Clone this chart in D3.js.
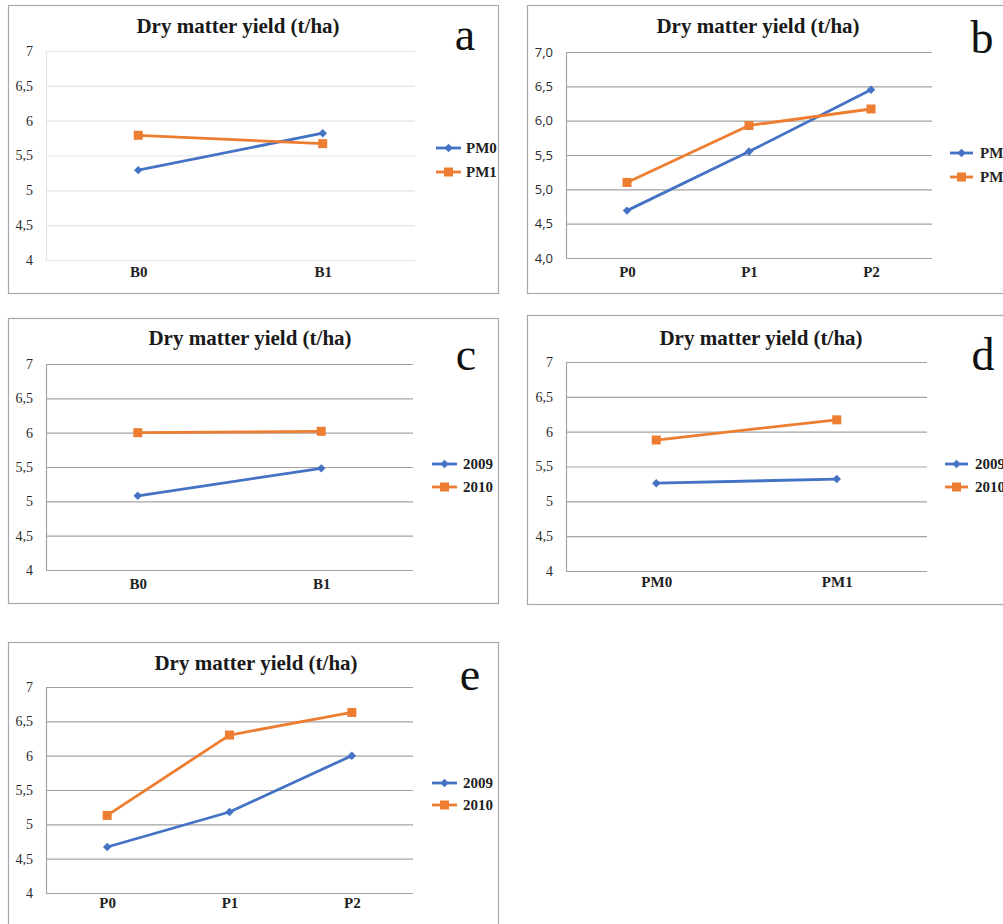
<!DOCTYPE html>
<html>
<head>
<meta charset="utf-8">
<script src="https://cdn.jsdelivr.net/npm/d3@7/dist/d3.min.js"></script>
<style>
  body { margin: 0; background: #fff; }
  svg { display: block; }
</style>
</head>
<body>
<svg id="fig" width="1003" height="924"></svg>
<script>
// categories
const catsB = ['B0', 'B1'];
const catsP = ['P0', 'P1', 'P2'];
const catsPM = ['PM0', 'PM1'];

// series values (t/ha)
const aPM0 = [5.29, 5.82];
const aPM1 = [5.79, 5.67];
const bPM0 = [4.69, 5.55, 6.45];
const bPM1 = [5.10, 5.93, 6.17];
const c2009 = [5.08, 5.48];
const c2010 = [6.00, 6.02];
const d2009 = [5.26, 5.32];
const d2010 = [5.88, 6.17];
const e2009 = [4.67, 5.18, 6.00];
const e2010 = [5.13, 6.30, 6.63];

const yTicks = [4, 4.5, 5, 5.5, 6, 6.5, 7];
const titleText = 'Dry matter yield (t/ha)';

const BLUE = '#4472c4';
const ORANGE = '#ed7d31';
const SERIF = '"Liberation Serif", "Times New Roman", serif';
const SANS = '"Open Sans", "Noto Sans", sans-serif';

const panels = [
  { letter: 'a', cats: catsB, names: ['PM0', 'PM1'], values: [aPM0, aPM1],
    frame: [8, 5, 490, 288], plot: [46, 51, 415, 260], title: [238, 33], tag: [465, 50],
    leg: [436, 461, 466, 148, 172], xLabY: 277, light: true, sans: false },
  { letter: 'b', cats: catsP, names: ['PM0', 'PM1'], values: [bPM0, bPM1],
    frame: [527, 5, 520, 288], plot: [566, 52, 932, 258], title: [758, 33], tag: [982, 53],
    leg: [950, 973, 980, 153, 177], xLabY: 277, light: false, sans: true },
  { letter: 'c', cats: catsB, names: ['2009', '2010'], values: [c2009, c2010],
    frame: [8, 318, 490, 285], plot: [46, 364, 413, 570], title: [250, 345], tag: [466, 370],
    leg: [432, 457, 463, 464, 487], xLabY: 589, light: false, sans: false },
  { letter: 'd', cats: catsPM, names: ['2009', '2010'], values: [d2009, d2010],
    frame: [527, 315, 520, 289], plot: [566, 362, 927, 571], title: [761, 345], tag: [983, 370],
    leg: [945, 968, 975, 464, 487], xLabY: 587, light: false, sans: false },
  { letter: 'e', cats: catsP, names: ['2009', '2010'], values: [e2009, e2010],
    frame: [8, 642, 490, 300], plot: [46, 687, 413, 893], title: [256, 670], tag: [470, 690],
    leg: [432, 457, 463, 783, 805], xLabY: 908, light: false, sans: false }
];

const svg = d3.select('#fig');

const diamond = d3.symbol(d3.symbolSquare, 36);
const square = d3.symbol(d3.symbolSquare, 81);

function drawMarker(g, i, x, y) {
  if (i === 0) {
    g.append('path').attr('d', diamond())
      .attr('transform', `translate(${x},${y}) rotate(45)`)
      .attr('fill', BLUE);
  } else {
    g.append('path').attr('d', square())
      .attr('transform', `translate(${x},${y})`)
      .attr('fill', ORANGE);
  }
}

panels.forEach(p => {
  const g = svg.append('g').attr('class', 'panel-' + p.letter);
  const [fx, fy, fw, fh] = p.frame;
  const [l, t, r, b] = p.plot;
  const gridColor = p.light ? '#e3e3e3' : '#a3a3a3';

  g.append('rect')
    .attr('x', fx + 0.5).attr('y', fy + 0.5)
    .attr('width', fw).attr('height', fh)
    .attr('fill', '#fff')
    .attr('stroke', '#a8a8a8')
    .attr('stroke-width', 1.2);

  const x = d3.scalePoint().domain(p.cats).range([l, r]).padding(0.5);
  const y = d3.scaleLinear().domain([4, 7]).range([b, t]);

  const tickFmt = p.sans
    ? d => d3.format('.1f')(d).replace('.', ',')
    : d => String(d).replace('.', ',');

  // y axis with gridlines
  g.append('g')
    .attr('transform', `translate(${l},0)`)
    .call(d3.axisLeft(y).tickValues(yTicks).tickFormat(tickFmt)
      .tickSizeInner(-(r - l)).tickSizeOuter(0).tickPadding(13))
    .call(a => a.select('.domain').attr('stroke', gridColor).attr('stroke-width', 1.2))
    .call(a => a.selectAll('.tick line').attr('stroke', gridColor).attr('stroke-width', 1.2))
    .call(a => a.selectAll('.tick text')
      .attr('fill', '#2b2b2b')
      .style('font-family', p.sans ? SANS : SERIF)
      .style('font-size', p.sans ? '13px' : '14px'));

  // x axis labels
  const xfs = 15;
  g.append('g')
    .attr('transform', `translate(0,${b})`)
    .call(d3.axisBottom(x).tickSize(0).tickPadding(p.xLabY - b - 0.71 * xfs))
    .call(a => a.select('.domain').remove())
    .call(a => a.selectAll('.tick text')
      .attr('fill', '#222')
      .style('font-family', SERIF)
      .style('font-weight', 'bold')
      .style('font-size', xfs + 'px'));

  // title and panel letter
  g.append('text')
    .attr('x', p.title[0]).attr('y', p.title[1])
    .attr('text-anchor', 'middle')
    .attr('fill', '#1a1a1a')
    .style('font-family', SERIF)
    .style('font-weight', 'bold')
    .style('font-size', '21px')
    .text(titleText);

  g.append('text')
    .attr('x', p.tag[0]).attr('y', p.tag[1])
    .attr('text-anchor', 'middle')
    .attr('fill', '#111')
    .style('font-family', SERIF)
    .style('font-size', '46px')
    .text(p.letter);

  // series lines and markers
  const line = d3.line().x(d => x(d[0])).y(d => y(d[1]));
  p.values.forEach((vals, i) => {
    const pts = p.cats.map((c, k) => [c, vals[k]]);
    g.append('path')
      .attr('d', line(pts))
      .attr('fill', 'none')
      .attr('stroke', i === 0 ? BLUE : ORANGE)
      .attr('stroke-width', 2.8)
      .attr('stroke-linejoin', 'round');
    pts.forEach(d => drawMarker(g, i, x(d[0]), y(d[1])));
  });

  // legend (right-hand panels run past the picture edge, as in the source)
  const [lx1, lx2, tx, ly0, ly1] = p.leg;
  [ly0, ly1].forEach((ly, i) => {
    g.append('line')
      .attr('x1', lx1).attr('x2', lx2).attr('y1', ly).attr('y2', ly)
      .attr('stroke', i === 0 ? BLUE : ORANGE)
      .attr('stroke-width', 2.8);
    drawMarker(g, i, (lx1 + lx2) / 2, ly);
    g.append('text')
      .attr('x', tx).attr('y', ly)
      .attr('dy', '0.35em')
      .attr('fill', '#222')
      .style('font-family', SERIF)
      .style('font-weight', 'bold')
      .style('font-size', '15px')
      .text(p.names[i]);
  });
});
</script>
</body>
</html>
